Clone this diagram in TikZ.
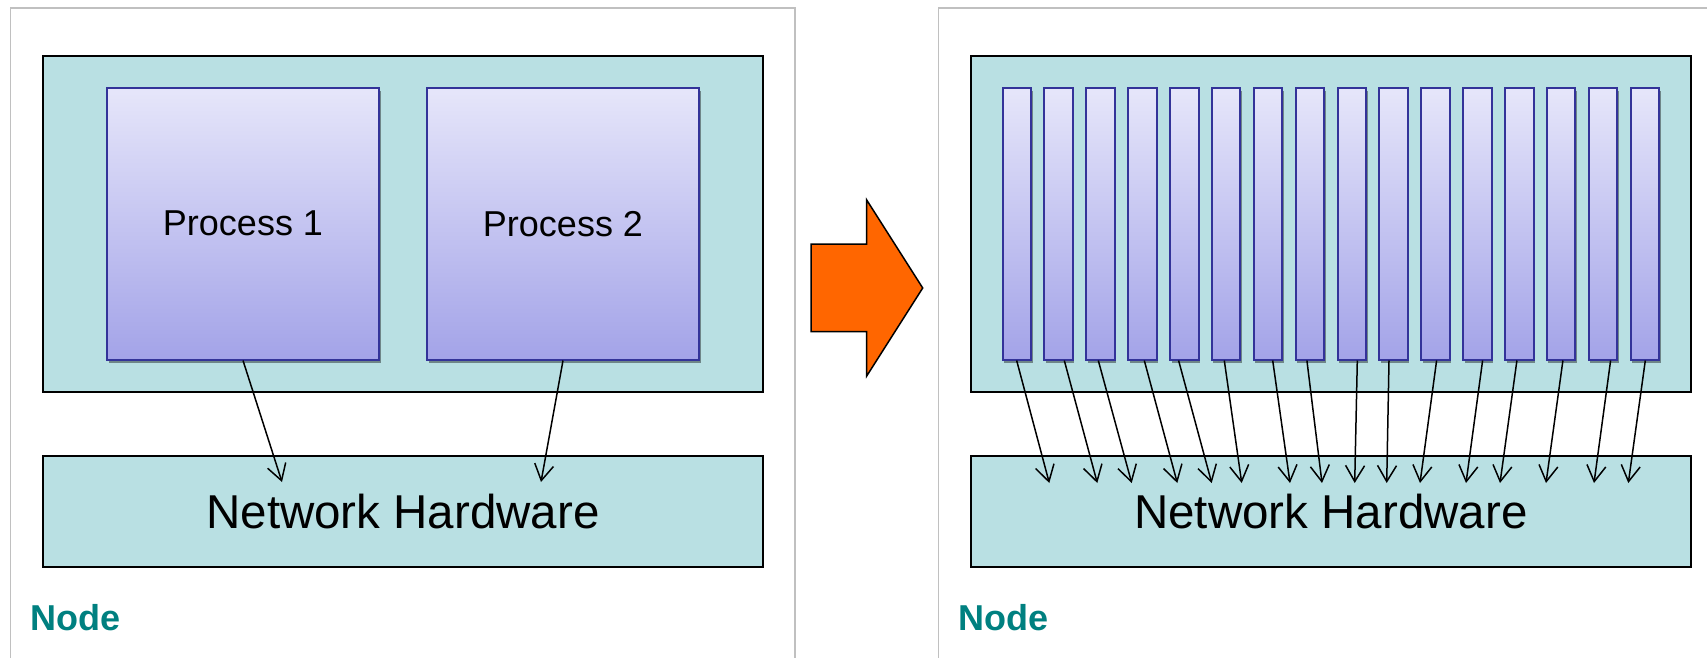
\documentclass[tikz,border=0pt]{standalone}
\usepackage{fontspec}
\setmainfont{Liberation Sans}
\usetikzlibrary{arrows.meta,shadows}

\definecolor{tealfill}{RGB}{185,224,227}
\definecolor{procedge}{RGB}{51,51,153}
\definecolor{proctop}{RGB}{230,230,250}
\definecolor{procbot}{RGB}{163,163,232}
\definecolor{framegray}{RGB}{192,192,192}
\definecolor{labelteal}{RGB}{0,128,128}
\definecolor{bigarrow}{RGB}{255,102,0}

\begin{document}
\begin{tikzpicture}[x=1pt,y=-1pt,
  panel/.style={draw=framegray,line width=1.7pt},
  hostbox/.style={draw=black,line width=2pt,fill=tealfill,inner sep=0pt,
    minimum width=720pt},
  proc/.style={draw=procedge,line width=2pt,top color=proctop,bottom color=procbot,
    inner sep=0pt,minimum height=271.5pt,
    drop shadow={shadow xshift=1.5pt,shadow yshift=-3pt,fill=black,opacity=0.4}},
  proclabel/.style={font=\fontsize{36}{40}\selectfont},
  hwlabel/.style={font=\fontsize{47.5}{52}\selectfont},
  nodelabel/.style={font=\bfseries\fontsize{36}{40}\selectfont,text=labelteal,
    inner sep=0pt,anchor=base west},
  arr/.style={-{Straight Barb[length=16pt,width=19pt]},line width=1.5pt}]

\useasboundingbox (0,0) rectangle (1707,658);

% panel frames
\draw[panel] (10.5,658) -- (10.5,8) -- (795,8) -- (795,658);
\draw[panel] (938.5,658) -- (938.5,8) -- (1707,8);

% ---- left node: two processes ----
\node[hostbox,minimum height=335.5pt] (hostL) at (403,223.75) {};
\node[hostbox,minimum height=111.5pt,hwlabel] (netL) at (403,511.25) {Network Hardware};
\node[proc,minimum width=272pt,proclabel] (pA) at (243,223.75) {Process 1};
\node[proc,minimum width=272pt,proclabel] (pB) at (563,223.75) {Process 2};
\coordinate (tA) at (282,482);
\coordinate (tB) at (541,482);
\draw[arr] (pA.south) -- (tA);
\draw[arr] (pB.south) -- (tB);
\node[nodelabel] (labL) at (30,630) {Node};

% ---- transition arrow ----
\draw[fill=bigarrow,draw=black,line width=1.5pt,line join=miter]
  (811,244) -- (866.7,244) -- (866.7,200) -- (922.7,288) -- (866.7,376)
  -- (866.7,331.7) -- (811,331.7) -- cycle;

% ---- right node: many processes ----
\node[hostbox,minimum height=335.5pt] (hostR) at (1330.85,223.75) {};
\node[hostbox,minimum height=111.5pt,hwlabel] (netR) at (1330.85,511.25) {Network Hardware};
\foreach \i/\cx in {1/1016.85,2/1058.7,3/1100.6,4/1142.5,5/1184.3,6/1226.2,
    7/1268.1,8/1309.9,9/1351.8,10/1393.7,11/1435.5,12/1477.4,13/1519.3,
    14/1561.2,15/1603.0,16/1644.9}
  \node[proc,minimum width=28.5pt] (b\i) at (\cx,223.75) {};
\foreach \i/\dx/\ex in {1/-0.2/1049.3,2/5.6/1097.3,3/-2.3/1131.7,4/1.8/1177.3,
    5/-5.7/1211.7,6/-1.9/1241.7,7/4.6/1290,8/-3/1322,9/5.5/1354.7,
    10/-4.7/1386.7,11/1.1/1420,12/5.2/1466,13/-2.4/1500,14/1.7/1546,
    15/7.6/1594,16/0.4/1628.3}
{
  \coordinate (t\i) at (\ex,483);
  \draw[arr] ([xshift=\dx pt]b\i.south) -- (t\i);
}
\node[nodelabel] (labR) at (958,630) {Node};

\end{tikzpicture}
\end{document}
